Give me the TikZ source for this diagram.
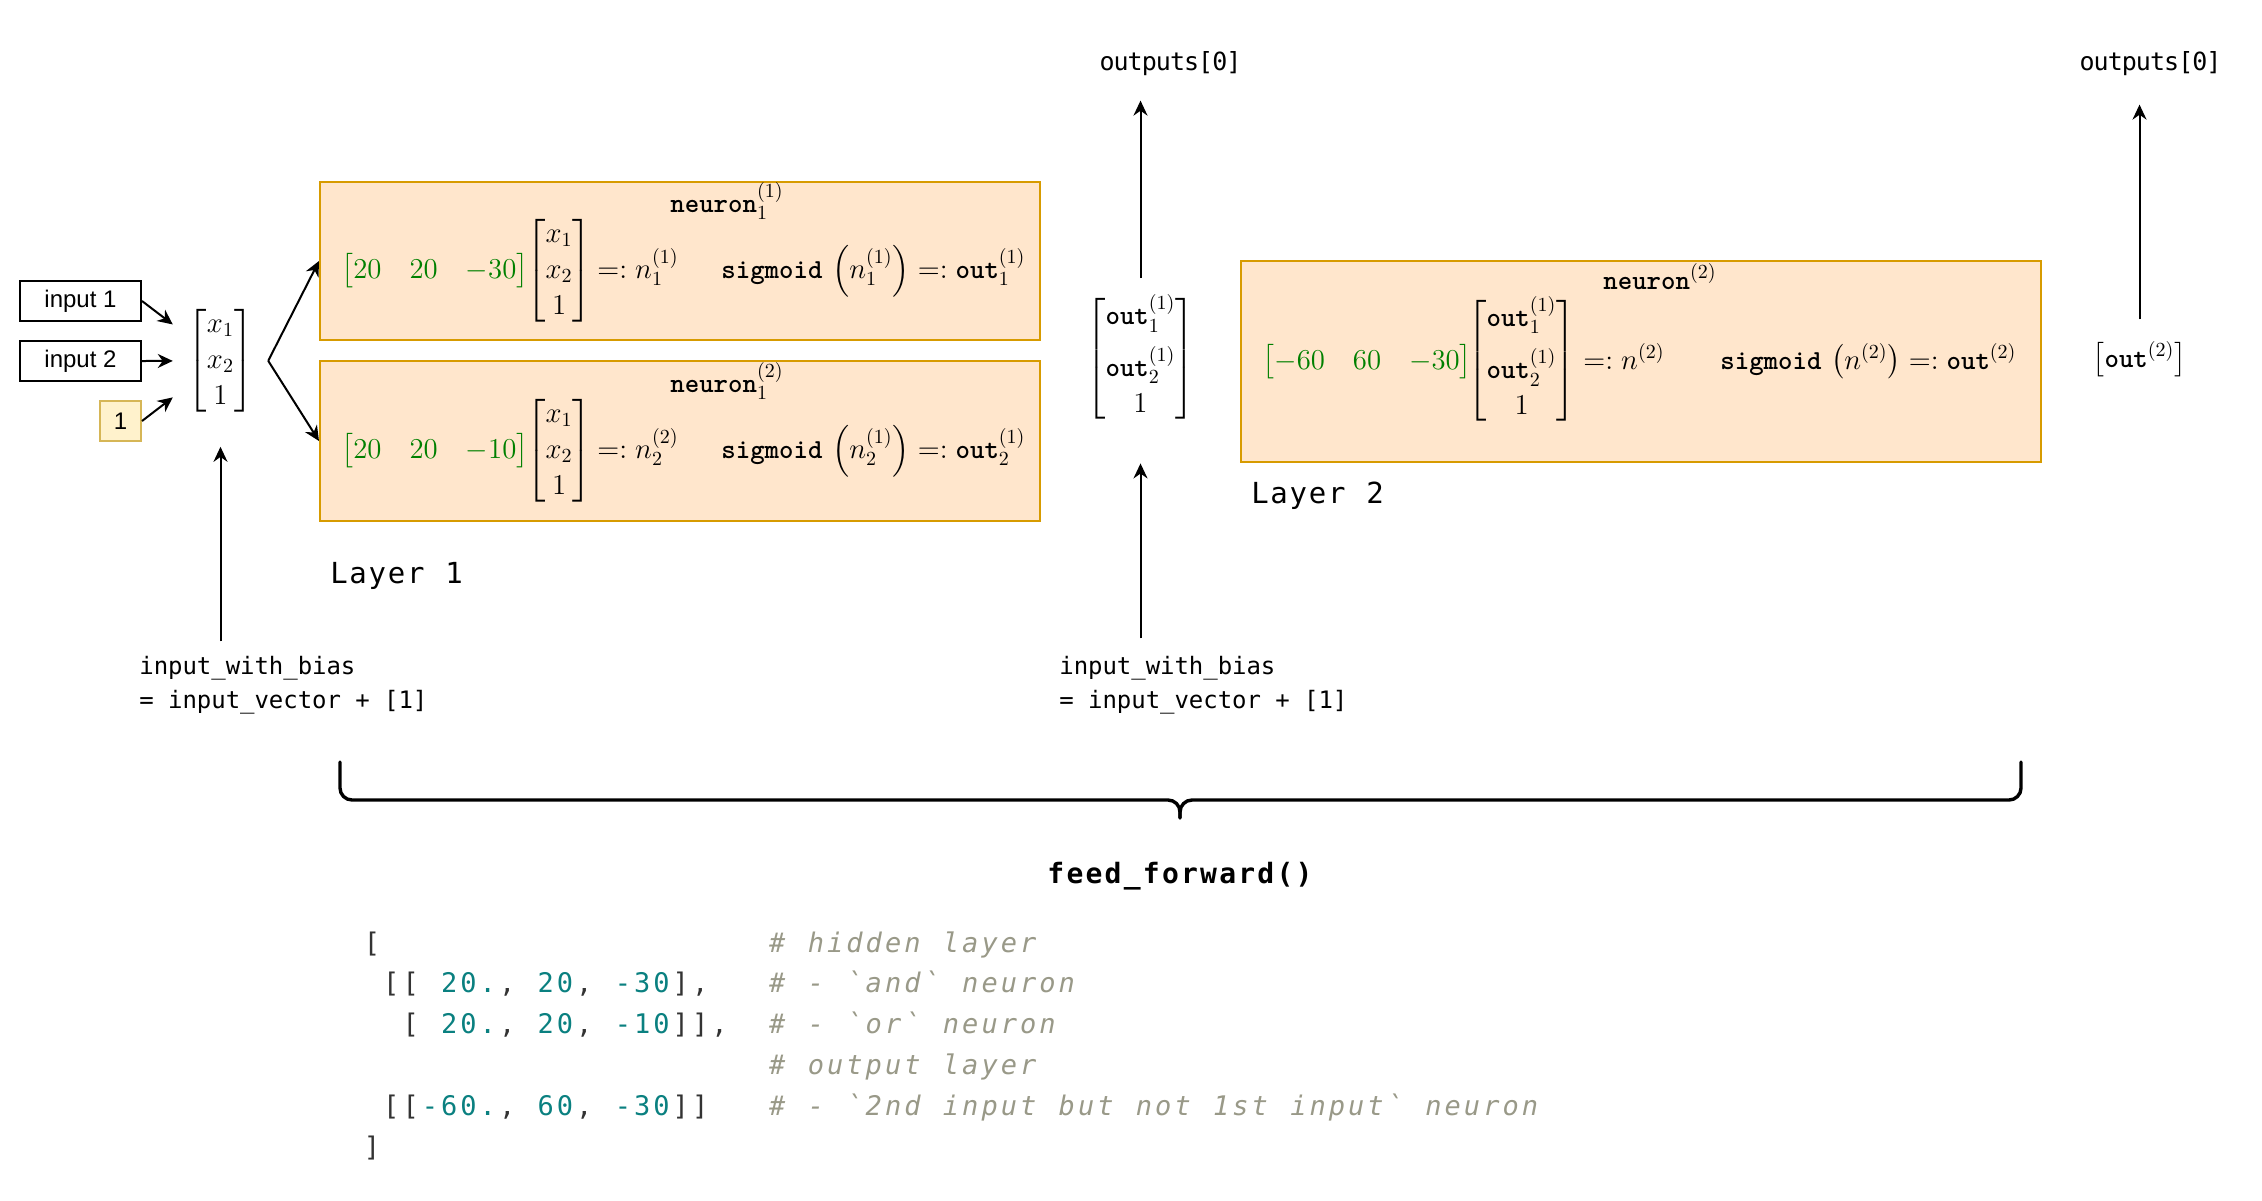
\documentclass[tikz,border=0pt]{standalone}
\usepackage{amsmath}
\usepackage{fontspec}
\usetikzlibrary{arrows.meta,calc}

\newfontfamily\labelfont{Liberation Sans}
\newfontfamily\codefont{DejaVu Sans Mono}

\definecolor{boxfill}{HTML}{FFE6CC}
\definecolor{boxline}{HTML}{D79B00}
\definecolor{onefill}{HTML}{FFF2CC}
\definecolor{oneline}{HTML}{D6B656}
\definecolor{wgreen}{HTML}{008000}
\definecolor{numteal}{HTML}{0A8080}
\definecolor{punct}{HTML}{333333}
\definecolor{cmtgray}{HTML}{999988}

% fixed character pitch for the monospaced labels and the code listing
\newlength\chpitch
\ExplSyntaxOn
\NewDocumentCommand\spaced{m}{\str_map_inline:nn{#1}{\makebox[\chpitch][c]{##1}}}
\ExplSyntaxOff
\newcommand\colgap[1]{\hspace*{#1\chpitch}}
\newcommand\cpunct[1]{{\color{punct}\spaced{#1}}}
\newcommand\cnum[1]{{\color{numteal}\spaced{#1}}}
\newcommand\ccomment[1]{{\color{cmtgray}\itshape\makebox[\chpitch][c]{\#}\makebox[\chpitch]{}\spaced{#1}}}
\newcommand\btt[1]{\text{\ttfamily\bfseries #1}}

\setlength{\arraycolsep}{7pt}

\begin{document}
\begin{tikzpicture}[x=0.5pt,y=-0.5pt,
  arr/.style={line width=1pt,-{Stealth[length=7.5pt,width=7pt]}},
  inbox/.style={draw,line width=1pt,minimum width=60.5pt,minimum height=20pt,inner sep=0pt,
    font=\labelfont\fontsize{12}{14}\selectfont},
  biasbox/.style={draw=oneline,fill=onefill,line width=1pt,minimum width=20.5pt,minimum height=20pt,
    inner sep=0pt,font=\labelfont\fontsize{12}{14}\selectfont},
  layerbox/.style={draw=boxline,fill=boxfill,line width=1pt,inner sep=0pt},
  mathnode/.style={inner sep=0pt,anchor=base west,font=\fontsize{13.75}{18}\selectfont},
  mathvec/.style={inner sep=0pt,anchor=base,font=\fontsize{13.75}{18}\selectfont},
  smallmono/.style={inner sep=0pt,font=\codefont\fontsize{12}{14}\selectfont\setlength{\chpitch}{7.2pt}},
  outlabel/.style={inner sep=0pt,anchor=base,font=\codefont\fontsize{12.5}{14}\selectfont\setlength{\chpitch}{7.05pt}},
  layerlabel/.style={inner sep=0pt,anchor=base west,font=\codefont\fontsize{14.5}{17}\selectfont\setlength{\chpitch}{9.6pt}},
  codeln/.style={inner sep=0pt,anchor=base west,font=\codefont\fontsize{13.5}{16}\selectfont\setlength{\chpitch}{9.65pt}},
  brace/.style={line width=1.7pt,rounded corners=6pt,line cap=round}
]
\useasboundingbox (0,0) rectangle (2262,1200);

% ---------- inputs ----------
\node[inbox] (in1) at (80.5,301) {input 1};
\node[inbox] (in2) at (80.5,361) {input 2};
\node[biasbox] (one) at (120.5,421) {1};
\node[mathvec,outer sep=7.5pt] (vecx) at (220.5,368) {$\begin{bmatrix}x_1\\x_2\\1\end{bmatrix}$};

% ---------- layer 1 ----------
\node[layerbox,minimum width=360pt,minimum height=79pt] (box1) at (680,261) {};
\node[layerbox,minimum width=360pt,minimum height=80pt] (box2) at (680,441) {};

\node[mathnode] (t1) at (670,212) {$\btt{neuron}_1^{(1)}$};
\node[mathnode] (w1) at (341,278) {$\color{wgreen}\begin{bmatrix}20&20&-30\end{bmatrix}$};
\node[mathnode] (xa) at (526,278) {$\begin{bmatrix}x_1\\x_2\\1\end{bmatrix}$};
\node[mathnode] (e1) at (597,278) {$=: n_1^{(1)}$};
\node[mathnode] (s1) at (721,278) {$\btt{sigmoid}\,\left(n_1^{(1)}\right) =: \btt{out}_1^{(1)}$};

\node[mathnode] (t2) at (670,392) {$\btt{neuron}_1^{(2)}$};
\node[mathnode] (w2) at (341,458) {$\color{wgreen}\begin{bmatrix}20&20&-10\end{bmatrix}$};
\node[mathnode] (xb) at (526,458) {$\begin{bmatrix}x_1\\x_2\\1\end{bmatrix}$};
\node[mathnode] (e2) at (597,458) {$=: n_2^{(2)}$};
\node[mathnode] (s2) at (721,458) {$\btt{sigmoid}\,\left(n_2^{(1)}\right) =: \btt{out}_2^{(1)}$};

\node[layerlabel] (lay1) at (329,583) {\spaced{Layer 1}};

% ---------- hidden outputs ----------
\node[mathvec] (vecout) at (1140.5,366) {$\begin{bmatrix}\btt{out}_1^{(1)}\\[5.5pt]\btt{out}_2^{(1)}\\1\end{bmatrix}$};
\node[outlabel] (outA) at (1170.5,70) {\spaced{outputs[0]}};

% ---------- layer 2 ----------
\node[layerbox,minimum width=400pt,minimum height=100.5pt] (box3) at (1641,361.5) {};
\node[mathnode] (t3) at (1603,289) {$\btt{neuron}^{(2)}$};
\node[mathnode] (w3) at (1262,369) {$\color{wgreen}\begin{bmatrix}-60&60&-30\end{bmatrix}$};
\node[mathnode] (xc) at (1467,368) {$\begin{bmatrix}\btt{out}_1^{(1)}\\[6pt]\btt{out}_2^{(1)}\\1\end{bmatrix}$};
\node[mathnode] (e3) at (1583,369) {$=: n^{(2)}$};
\node[mathnode] (s3) at (1720,369) {$\btt{sigmoid}\,\left(n^{(2)}\right) =: \btt{out}^{(2)}$};
\node[layerlabel] (lay2) at (1250,503) {\spaced{Layer 2}};

\node[mathvec] (vecout2) at (2139.5,367) {$\begin{bmatrix}\btt{out}^{(2)}\end{bmatrix}$};
\node[outlabel] (outB) at (2150.5,70) {\spaced{outputs[0]}};

% ---------- bias notes ----------
\node[smallmono,anchor=base west] (ib1) at (139,674) {\spaced{input_with_bias}};
\node[smallmono,anchor=base west] (ib1b) at (139,708) {\spaced{= input_vector + [1]}};
\node[smallmono,anchor=base west] (ib2) at (1059,674) {\spaced{input_with_bias}};
\node[smallmono,anchor=base west] (ib2b) at (1059,708) {\spaced{= input_vector + [1]}};

% ---------- connectors ----------
\draw[arr] (in1.east) -- (vecx);
\draw[arr] (in2.east) -- (vecx);
\draw[arr] (one.east) -- (vecx);
\draw[arr] (vecx.east) -- (box1.west);
\draw[arr] (vecx.east) -- (box2.west);
\draw[arr] ($(ib1.north -| vecx.south)+(0,-14)$) -- ([yshift=-8.5pt]vecx.south);
\draw[arr] ($(ib2.north -| vecout.south)+(0,-17)$) -- ([yshift=-20pt]vecout.south);
\draw[arr] ([yshift=8pt]vecout.north) -- ($(outA.south -| vecout.north)+(0,25)$);
\draw[arr] ([yshift=11pt]vecout2.north) -- ($(outB.south -| vecout2.north)+(0,29)$);

% ---------- brace under both layers ----------
\draw[brace] (340,762) -- (340,800) -- (1180,800) -- (1180,818);
\draw[brace] (2021,762) -- (2021,800) -- (1180,800) -- (1180,818);
\node[inner sep=0pt,anchor=base,font=\codefont\bfseries\fontsize{14}{17}\selectfont\setlength{\chpitch}{9.55pt}] (ff) at (1180,883) {\spaced{feed_forward()}};

% ---------- weight listing ----------
\node[codeln] (c1) at (362,952) {\cpunct{[}\colgap{20}\ccomment{hidden layer}};
\node[codeln] (c2) at (362,992.8) {\colgap{1}\cpunct{[[ }\cnum{20.}\cpunct{, }\cnum{20}\cpunct{, }\cnum{-30}\cpunct{],}\colgap{3}\ccomment{- `and` neuron}};
\node[codeln] (c3) at (362,1033.6) {\colgap{2}\cpunct{[ }\cnum{20.}\cpunct{, }\cnum{20}\cpunct{, }\cnum{-10}\cpunct{]],}\colgap{2}\ccomment{- `or` neuron}};
\node[codeln] (c4) at (362,1074.4) {\colgap{21}\ccomment{output layer}};
\node[codeln] (c5) at (362,1115.2) {\colgap{1}\cpunct{[[}\cnum{-60.}\cpunct{, }\cnum{60}\cpunct{, }\cnum{-30}\cpunct{]]}\colgap{3}\ccomment{- `2nd input but not 1st input` neuron}};
\node[codeln] (c6) at (362,1156) {\cpunct{]}};
\end{tikzpicture}
\end{document}
